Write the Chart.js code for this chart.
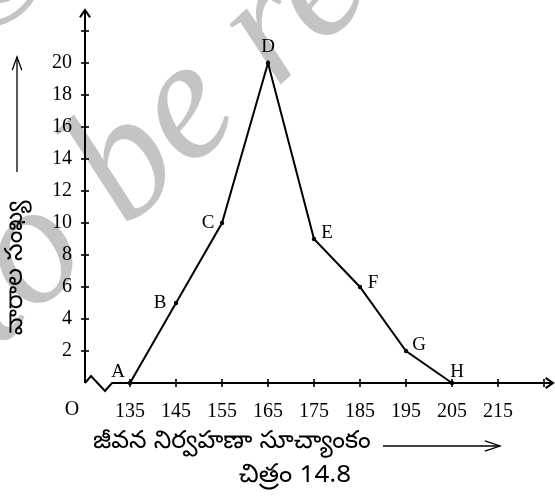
<!DOCTYPE html>
<html>
<head>
<meta charset="utf-8">
<script src="https://cdn.jsdelivr.net/npm/chart.js@4.4.1/dist/chart.umd.min.js"></script>
<style>
  html, body { margin: 0; padding: 0; background: #fff; }
  #wrap { width: 555px; height: 497px; position: relative; }
</style>
</head>
<body>
<div id="wrap"><canvas id="poly" width="555" height="497"></canvas></div>
<script>
// Frequency polygon: weekly cost of living index vs number of weeks
const classMarks = [135, 145, 155, 165, 175, 185, 195, 205];
const weekCounts = [0, 5, 10, 20, 9, 6, 2, 0];
const pointNames = ['A', 'B', 'C', 'D', 'E', 'F', 'G', 'H'];
const xTickValues = [135, 145, 155, 165, 175, 185, 195, 205, 215, 225];
const xTickLabels = ['135', '145', '155', '165', '175', '185', '195', '205', '215', ''];
const yTickValues = [2, 4, 6, 8, 10, 12, 14, 16, 18, 20, 22];
const yTickLabels = ['2', '4', '6', '8', '10', '12', '14', '16', '18', '20', ''];
const xTitle = 'జీవన నిర్వహణా సూచ్యాంకం';
const yTitle = 'వారాల సంఖ్య';
const caption = 'చిత్రం 14.8';

// label placement around each vertex (dx, dy in px)
const nameOffsets = [[-12, -11], [-16, 0], [-14, 0], [0, -16], [13, -6], [13, -4], [13, -6], [5, -11]];

const SERIF = '"Liberation Serif", "DejaVu Serif", serif';
const TELUGU = '"Noto Sans Telugu", "Noto Sans", "DejaVu Sans", sans-serif';

function arrowHead(ctx, x, y, dir, len, spread) {
  // open chevron pointing in direction dir (radians)
  ctx.beginPath();
  ctx.moveTo(x - len * Math.cos(dir - spread), y - len * Math.sin(dir - spread));
  ctx.lineTo(x, y);
  ctx.lineTo(x - len * Math.cos(dir + spread), y - len * Math.sin(dir + spread));
  ctx.stroke();
}

// faint diagonal publisher mark behind the plot
const watermark = {
  id: 'watermark',
  beforeDraw(chart) {
    const ctx = chart.ctx;
    ctx.save();
    ctx.fillStyle = '#c4c4c4';
    ctx.font = 'italic 172px ' + SERIF;
    const wt = ctx.measureText('t').width;
    const wo = ctx.measureText('o').width;
    ctx.translate(42, 254);
    ctx.rotate(-43 * Math.PI / 180);
    ctx.textBaseline = 'alphabetic';
    ctx.fillText('to be re', -(wt + wo / 2) - 8, 39);
    ctx.restore();
    ctx.save();
    ctx.fillStyle = '#c4c4c4';
    ctx.font = '170px ' + SERIF;
    ctx.textAlign = 'center';
    ctx.textBaseline = 'middle';
    ctx.fillText('\u00A9', -15, -20);
    ctx.restore();
  }
};

const axesAndNotes = {
  id: 'axesAndNotes',
  afterDatasetsDraw(chart) {
    const ctx = chart.ctx;
    const xs = chart.scales.x, ys = chart.scales.y;
    const ox = chart.chartArea.left, oy = ys.getPixelForValue(0);
    const top = chart.chartArea.top;
    const right = 553;
    ctx.save();
    ctx.strokeStyle = '#000';
    ctx.lineWidth = 2;
    ctx.lineJoin = 'miter';
    // y axis
    ctx.beginPath();
    ctx.moveTo(ox, oy);
    ctx.lineTo(ox, top);
    ctx.stroke();
    arrowHead(ctx, ox, top, -Math.PI / 2, 9, 0.6);
    // x axis with break mark near origin
    ctx.beginPath();
    ctx.moveTo(ox, oy);
    ctx.lineTo(ox + 6, oy - 7);
    ctx.lineTo(ox + 20, oy + 8);
    ctx.lineTo(ox + 27, oy);
    ctx.lineTo(right, oy);
    ctx.stroke();
    arrowHead(ctx, right, oy, 0, 9, 0.6);
    // tick marks crossing the axes
    ctx.lineWidth = 1.6;
    yTickValues.forEach(v => {
      const py = ys.getPixelForValue(v);
      ctx.beginPath(); ctx.moveTo(ox - 4, py); ctx.lineTo(ox + 4, py); ctx.stroke();
    });
    xTickValues.forEach(v => {
      const px = xs.getPixelForValue(v);
      ctx.beginPath(); ctx.moveTo(px, oy - 4); ctx.lineTo(px, oy + 4); ctx.stroke();
    });
    // vertex names
    const meta = chart.getDatasetMeta(0);
    ctx.fillStyle = '#000';
    ctx.font = '19px ' + SERIF;
    ctx.textAlign = 'center';
    ctx.textBaseline = 'middle';
    meta.data.forEach((pt, i) => {
      ctx.fillText(pointNames[i], pt.x + nameOffsets[i][0], pt.y + nameOffsets[i][1]);
    });
    // origin
    ctx.font = '20px ' + SERIF;
    ctx.fillText('O', 72, 410);
    // titles
    ctx.font = '25px ' + TELUGU;
    ctx.textAlign = 'left';
    ctx.fillText(xTitle, 93, 444);
    ctx.lineWidth = 1.3;
    ctx.beginPath(); ctx.moveTo(383, 446); ctx.lineTo(500, 446); ctx.stroke();
    arrowHead(ctx, 500, 446, 0, 16, 0.32);
    ctx.textAlign = 'center';
    ctx.font = '26px ' + TELUGU;
    ctx.fillText(caption, 295, 478);
    ctx.font = '25px ' + TELUGU;
    ctx.save();
    ctx.translate(18, 268);
    ctx.rotate(-Math.PI / 2);
    ctx.fillText(yTitle, 0, 0);
    ctx.restore();
    ctx.beginPath(); ctx.moveTo(17, 172); ctx.lineTo(17, 57); ctx.stroke();
    arrowHead(ctx, 17, 57, -Math.PI / 2, 14, 0.35);
    ctx.restore();
  }
};

new Chart(document.getElementById('poly'), {
  type: 'line',
  data: {
    datasets: [{
      data: classMarks.map((x, i) => ({ x, y: weekCounts[i] })),
      borderColor: '#000',
      borderWidth: 2,
      backgroundColor: '#000',
      pointRadius: 2.2,
      pointBackgroundColor: '#000',
      pointBorderWidth: 0,
      tension: 0,
      fill: false,
      clip: false
    }]
  },
  options: {
    responsive: false,
    animation: false,
    devicePixelRatio: 1,
    layout: { padding: { top: 10, right: 5, left: 0, bottom: 0 } },
    plugins: { legend: { display: false }, tooltip: { enabled: false } },
    scales: {
      x: {
        type: 'linear',
        min: 125.217,
        max: 226.304,
        grid: { display: false, drawTicks: false },
        border: { display: false },
        afterBuildTicks(s) { s.ticks = xTickValues.map(v => ({ value: v })); },
        afterFit(s) { s.height = 114; s.paddingLeft = 0; s.paddingRight = 0; },
        ticks: {
          autoSkip: false, maxRotation: 0, padding: 17,
          color: '#000', font: { family: SERIF, size: 20 },
          callback: (v) => xTickLabels[xTickValues.indexOf(v)]
        }
      },
      y: {
        min: 0,
        max: 23.3125,
        grid: { display: false, drawTicks: false },
        border: { display: false },
        afterBuildTicks(s) { s.ticks = yTickValues.map(v => ({ value: v })); },
        afterFit(s) { s.width = 85; s.paddingTop = 0; s.paddingBottom = 0; },
        ticks: {
          autoSkip: false, padding: 13,
          color: '#000', font: { family: SERIF, size: 20 },
          callback: (v) => yTickLabels[yTickValues.indexOf(v)]
        }
      }
    }
  },
  plugins: [watermark, axesAndNotes]
});
</script>
</body>
</html>
